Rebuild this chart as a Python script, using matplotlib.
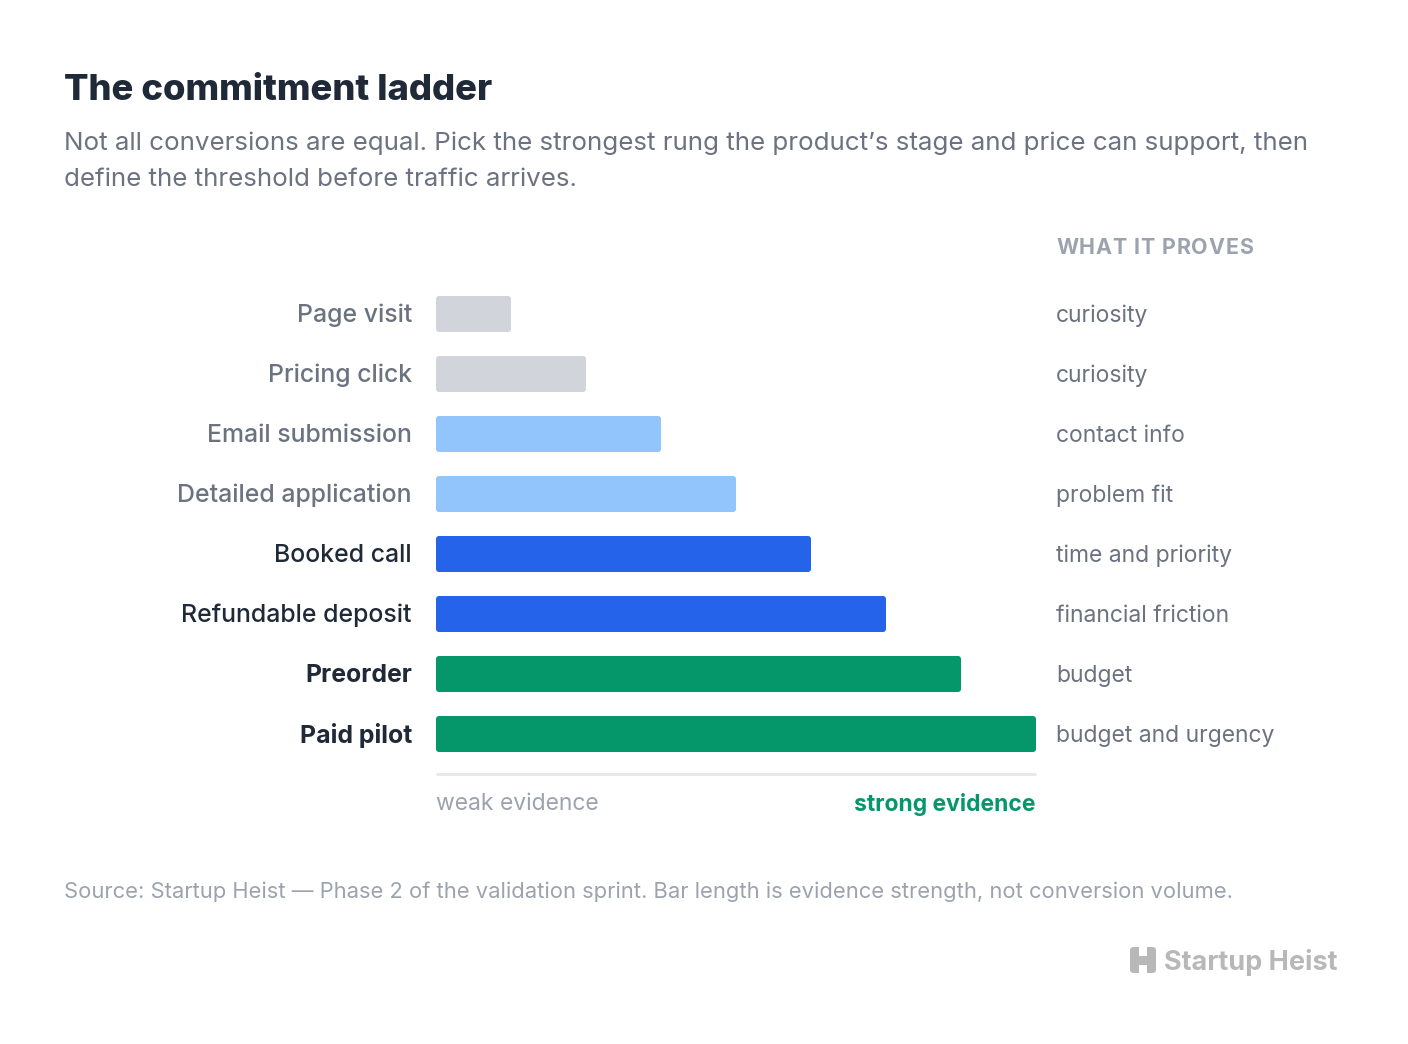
import matplotlib
matplotlib.use("Agg")
import matplotlib.pyplot as plt
from matplotlib.patches import FancyBboxPatch, Rectangle

plt.rcParams['font.family'] = ['Inter', 'DejaVu Sans']

# ---- data ----
categories = ["Page visit", "Pricing click", "Email submission", "Detailed application",
              "Booked call", "Refundable deposit", "Preorder", "Paid pilot"]
strength = [1, 2, 3, 4, 5, 6, 7, 8]
proves = ["curiosity", "curiosity", "contact info", "problem fit",
          "time and priority", "financial friction", "budget", "budget and urgency"]
tiers = ["low", "low", "mid", "mid", "high", "high", "top", "top"]

tier_color = {"low": "#d1d5db", "mid": "#93c5fd", "high": "#2563eb", "top": "#059669"}
label_color = {"low": "#6b7280", "mid": "#6b7280", "high": "#1f2937", "top": "#1f2937"}
label_weight = {"low": "medium", "mid": "medium", "high": "medium", "top": "bold"}

W, H = 1408, 1044
fig = plt.figure(figsize=(W / 100, H / 100), dpi=100)
fig.patch.set_facecolor("white")

def fx(x):
    return x / W

def fy(y):
    return 1 - y / H

# axes spanning bars region (pixels 436..1036, 284..774)
ax_left, ax_right, ax_top, ax_bot = 436, 1036, 284, 774
ax = fig.add_axes([fx(ax_left), fy(ax_bot), (ax_right - ax_left) / W, (ax_bot - ax_top) / H])
ax.set_xlim(0, 8)
row_px = 60
ax.set_ylim((ax_bot - 314) / row_px, -(314 - ax_top) / row_px)
ax.axis("off")

ypos = list(range(len(categories)))
bars = ax.barh(ypos, strength, height=36 / row_px, left=0,
               color=[tier_color[t] for t in tiers])
# replace with rounded bars
px_x = (ax_right - ax_left) / 8.0
rad_px = 3.0
for b, t in zip(bars, tiers):
    b.set_visible(False)
    r = rad_px / px_x
    p = FancyBboxPatch((b.get_x(), b.get_y()), b.get_width(), b.get_height(),
                       boxstyle=f"round,pad=0,rounding_size={r}",
                       mutation_aspect=(rad_px / row_px) / r,
                       facecolor=tier_color[t], edgecolor="none")
    ax.add_patch(p)

# baseline axis line
ax.plot([0, 8], [(774 - 314) / row_px] * 2, color="#e5e7eb", lw=2, clip_on=False,
        solid_capstyle="butt")

# category labels and "what it proves"
for i, (c, p, t) in enumerate(zip(categories, proves, tiers)):
    ax.text(-24 / px_x, i - 0.015, c, ha="right", va="center_baseline", fontsize=17.9,
            color=label_color[t], fontweight=label_weight[t])
    ax.text(8 + 20 / px_x, i - 0.015, p, ha="left", va="center_baseline", fontsize=16.5,
            color="#6b7280")

# header with letter spacing
renderer = fig.canvas.get_renderer()
hx = 1056.0
for ch in "WHAT IT PROVES":
    t = fig.text(fx(hx), fy(246), ch, ha="left", va="center_baseline",
                 fontsize=15.4, fontweight="bold", color="#9ca3af")
    if ch == " ":
        w = 5.0
    else:
        w = t.get_window_extent(renderer).width
    hx += w + 0.9

# evidence labels
fig.text(fx(436), fy(802), "weak evidence", ha="left", va="center_baseline",
         fontsize=16.5, color="#9ca3af")
fig.text(fx(1036), fy(802), "strong evidence", ha="right", va="center_baseline",
         fontsize=16.5, color="#059669", fontweight="bold")

# title and subtitle
fig.text(fx(64), fy(87), "The commitment ladder", ha="left", va="center_baseline",
         fontsize=26.2, fontweight="heavy", color="#1f2937")
fig.text(fx(64), fy(141), "Not all conversions are equal. Pick the strongest rung the product\u2019s stage and price can support, then",
         ha="left", va="center_baseline", fontsize=18.66, color="#6b7280")
fig.text(fx(64), fy(177), "define the threshold before traffic arrives.",
         ha="left", va="center_baseline", fontsize=18.66, color="#6b7280")

# source
fig.text(fx(64), fy(890), "Source: Startup Heist \u2014 Phase 2 of the validation sprint. Bar length is evidence strength, not conversion volume.",
         ha="left", va="center_baseline", fontsize=15.8, color="#9ca3af")

# logo
logo_col = "#b8b8b8"
lx0, ly0, lw, lh = 1130, 947, 26, 26
fig.patches.append(FancyBboxPatch((fx(lx0), fy(ly0 + lh)), fx(lw), lh / H,
                                  boxstyle="round,pad=0,rounding_size=0.003",
                                  transform=fig.transFigure, facecolor=logo_col,
                                  edgecolor="none"))
fig.patches.append(Rectangle((fx(1139), fy(947 + 9)), fx(8), 9 / H,
                             transform=fig.transFigure, facecolor="white", edgecolor="none"))
fig.patches.append(Rectangle((fx(1139), fy(973)), fx(8), 8 / H,
                             transform=fig.transFigure, facecolor="white", edgecolor="none"))
fig.text(fx(1164), fy(960), "Startup Heist", ha="left", va="center_baseline",
         fontsize=19.5, fontweight="bold", color=logo_col)

fig.savefig("out.png", dpi=100, facecolor="white")
